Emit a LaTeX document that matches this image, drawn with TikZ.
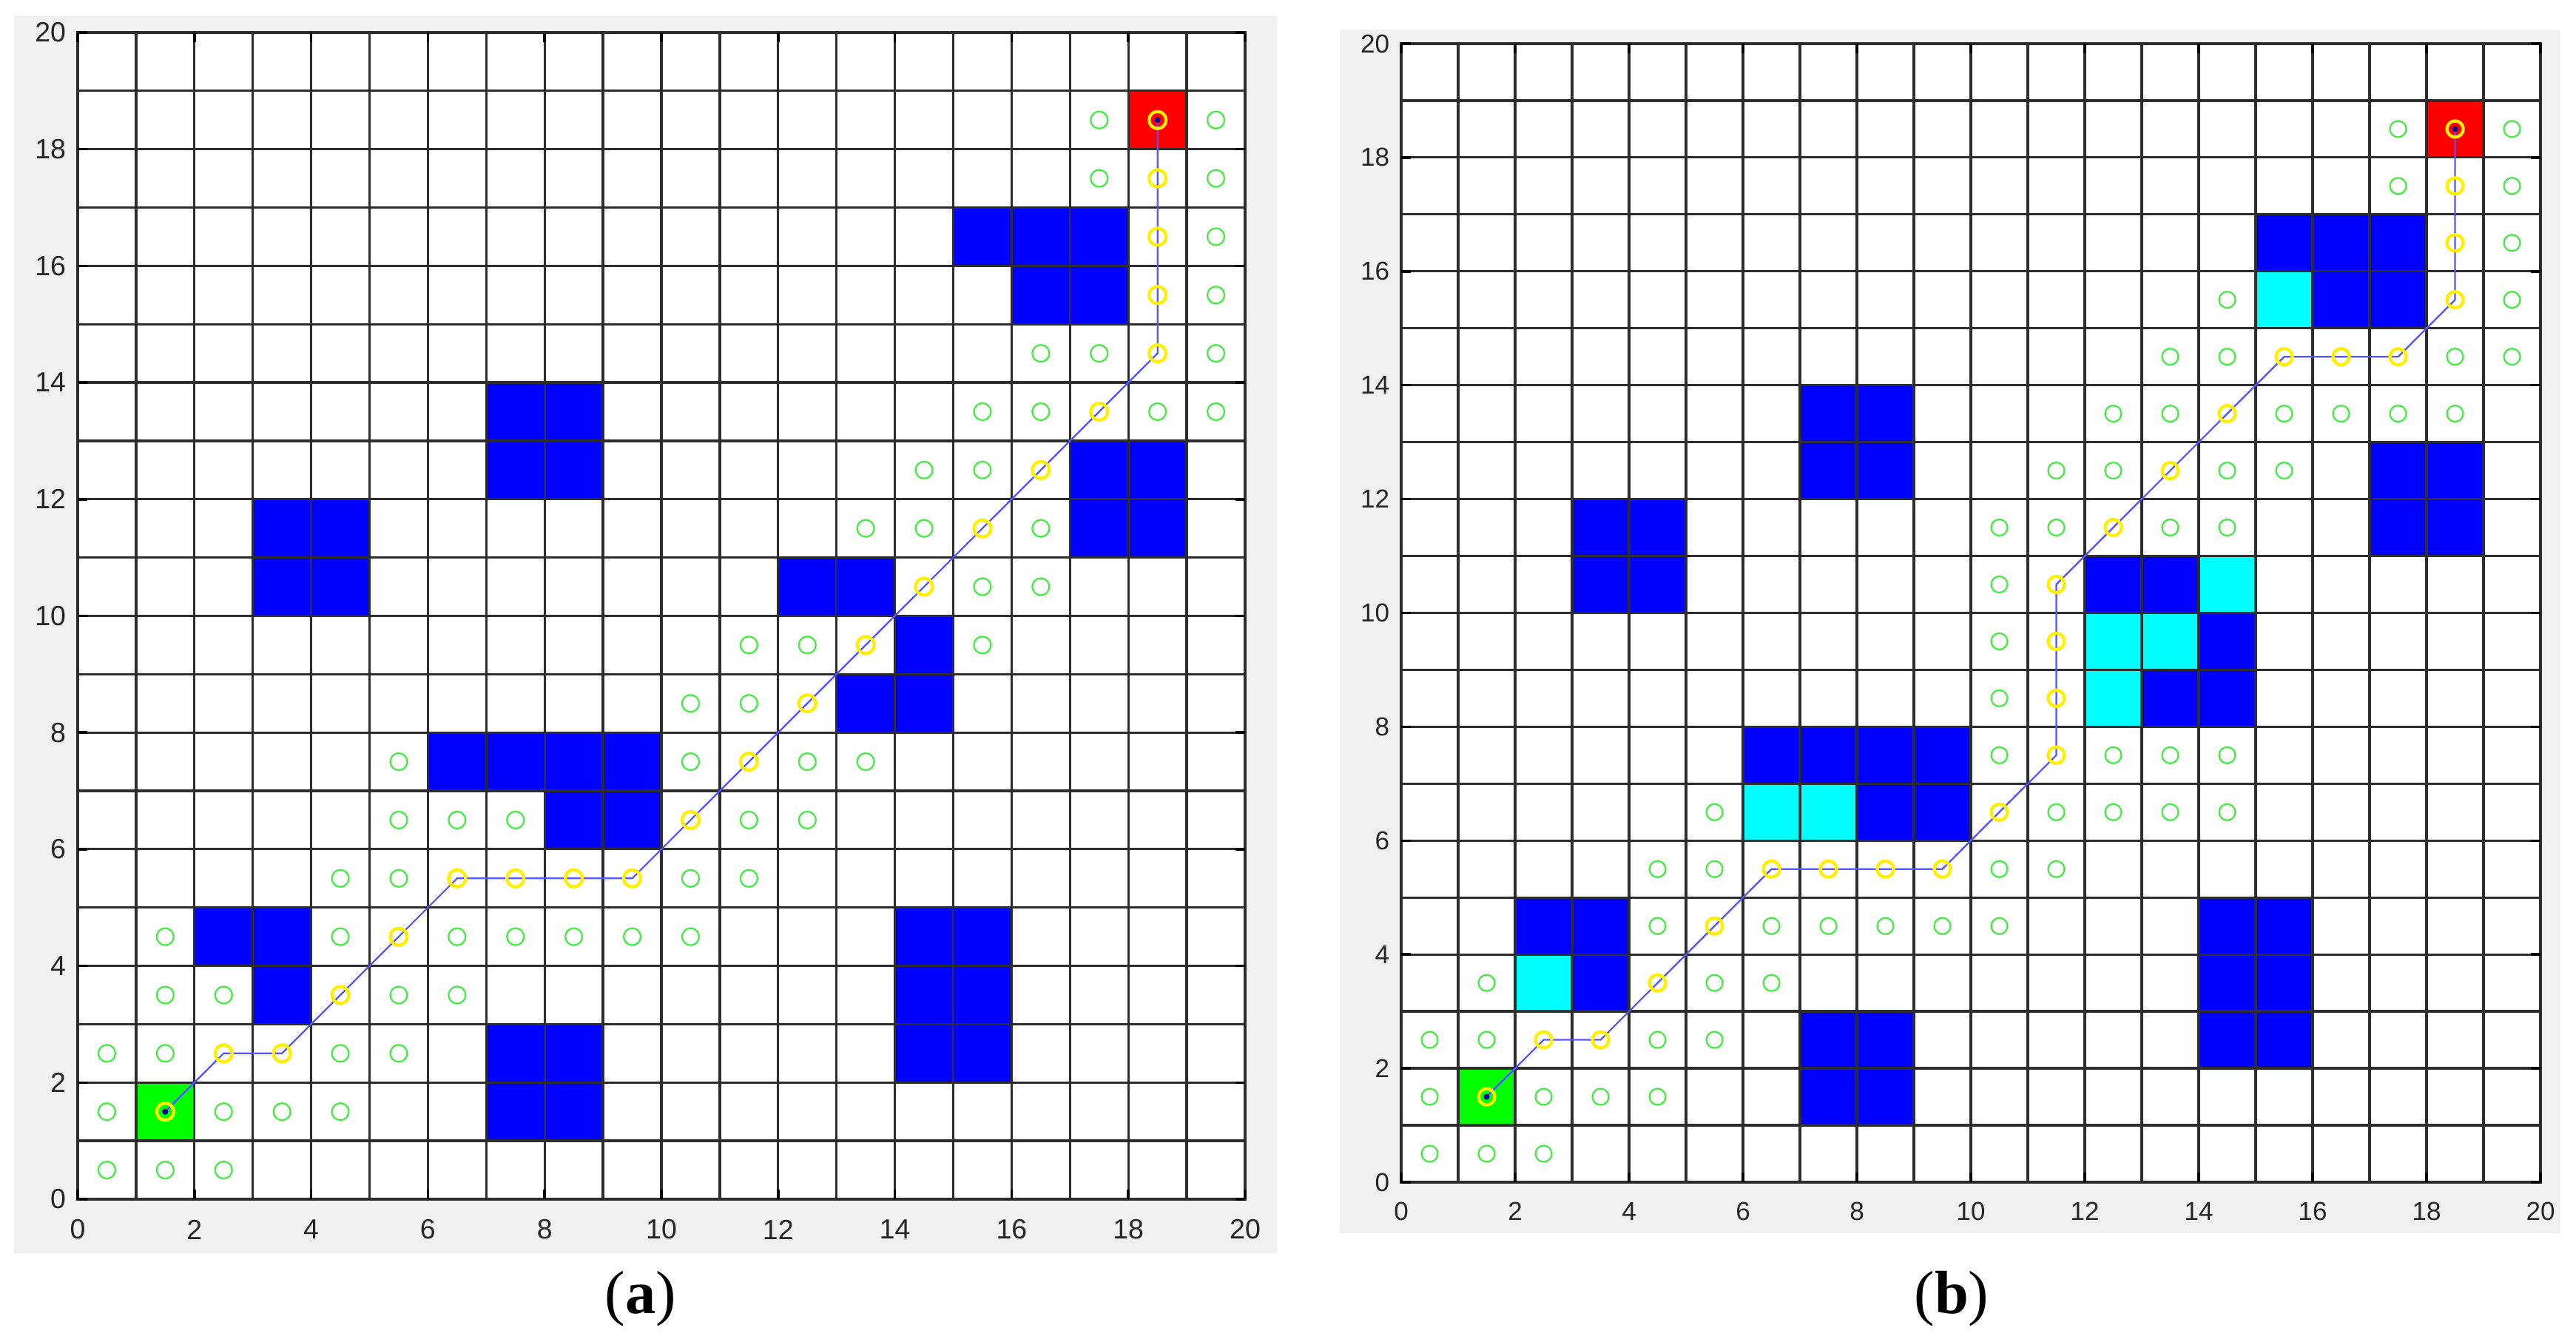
\documentclass[tikz,border=0pt]{standalone}
\usepackage{fontspec}
\setmainfont{Liberation Serif}
\newfontfamily\tickfont{Liberation Sans}
\definecolor{figgray}{RGB}{240,240,240}
\definecolor{obstblue}{RGB}{0,0,255}
\definecolor{obstcyan}{RGB}{0,255,255}
\definecolor{startgreen}{RGB}{0,255,0}
\definecolor{goalred}{RGB}{255,0,0}
\definecolor{opengreen}{RGB}{70,235,70}
\definecolor{pathyellow}{RGB}{255,240,0}
\definecolor{routeblue}{RGB}{85,85,255}
\definecolor{gridcol}{RGB}{45,45,45}
\definecolor{tickcol}{RGB}{38,38,38}
\tikzset{
  gridline/.style={draw=gridcol, line width=0.65pt},
  axisline/.style={draw=gridcol, line width=0.7pt},
  tickline/.style={draw=black, line width=0.7pt},
  obst/.style={fill=obstblue},
  obstc/.style={fill=obstcyan},
  opencirc/.style={draw=opengreen, line width=0.45pt},
  pathcirc/.style={draw=pathyellow, line width=0.85pt},
  route/.style={draw=routeblue, line width=0.45pt, line join=round},
  enddot/.style={fill=blue!60!black},
  panellabel/.style={font=\fontsize{16.5}{18}\selectfont, inner sep=0pt},
}
% axes, grid, ticks and tick labels of one panel (data units 0..20)
\newcommand\panelgrid[2]{% #1 tick font size, #2 label offset below
  \foreach \i in {0,...,20} {
    \draw[gridline] (\i,0) -- (\i,20);
    \draw[gridline] (0,\i) -- (20,\i);
  }
  \draw[axisline] (0,0) rectangle (20,20);
  \foreach \i in {0,2,...,20} {
    \draw[tickline] (\i,0) -- ++(0,2.6pt);
    \draw[tickline] (\i,20) -- ++(0,-2.6pt);
    \draw[tickline] (0,\i) -- ++(2.6pt,0);
    \draw[tickline] (20,\i) -- ++(-2.6pt,0);
    \node[font={\tickfont\fontsize{#1}{#1}\selectfont}, text=tickcol, inner sep=0pt, anchor=center]
      (xl\i) at ([yshift=-#2]\i,0) {\i};
    \node[font={\tickfont\fontsize{#1}{#1}\selectfont}, text=tickcol, inner sep=0pt, anchor=east]
      (yl\i) at ([xshift=-3pt]0,\i) {\i};
  }
}
\begin{document}
\begin{tikzpicture}
\useasboundingbox (0,0) rectangle (696.4pt,362.8pt);
% figure backgrounds
\fill[figgray] (3.8pt,24pt) rectangle (345.2pt,358.6pt);
\fill[figgray] (362.2pt,29.4pt) rectangle (692.2pt,354.8pt);

% ---------------- panel (a) ----------------
\begin{scope}[shift={(21pt,38.6pt)}, x=15.78pt, y=15.77pt]
  \fill[white] (0,0) rectangle (20,20);
  \foreach \x/\y in {15/16,16/16,17/16,16/15,17/15, 7/12,8/12,7/13,8/13,
      3/10,4/10,3/11,4/11, 17/11,18/11,17/12,18/12,
      12/10,13/10,14/9,14/8,13/8, 6/7,7/7,8/7,9/7,8/6,9/6,
      2/4,3/4,3/3, 7/1,8/1,7/2,8/2, 14/2,15/2,14/3,15/3,14/4,15/4}
    \fill[obst] (\x,\y) rectangle ++(1,1);
  \fill[startgreen] (1,1) rectangle (2,2);
  \fill[goalred] (18,18) rectangle (19,19);
  \panelgrid{7.5}{8.2pt}
  \draw[route] (1.5,1.5) -- (2.5,2.5) -- (3.5,2.5) -- (4.5,3.5) -- (5.5,4.5) -- (6.5,5.5)
     -- (9.5,5.5) -- (10.5,6.5) -- (18.5,14.5) -- (18.5,18.5);
  \foreach \x/\y in {0.5/0.5,1.5/0.5,2.5/0.5,
      0.5/1.5,2.5/1.5,3.5/1.5,4.5/1.5,
      0.5/2.5,1.5/2.5,4.5/2.5,5.5/2.5,
      1.5/3.5,2.5/3.5,5.5/3.5,6.5/3.5,
      1.5/4.5,4.5/4.5,6.5/4.5,7.5/4.5,8.5/4.5,9.5/4.5,10.5/4.5,
      4.5/5.5,5.5/5.5,10.5/5.5,11.5/5.5,
      5.5/6.5,6.5/6.5,7.5/6.5,11.5/6.5,12.5/6.5,
      5.5/7.5,10.5/7.5,12.5/7.5,13.5/7.5,
      10.5/8.5,11.5/8.5,
      11.5/9.5,12.5/9.5,15.5/9.5,
      15.5/10.5,16.5/10.5,
      13.5/11.5,14.5/11.5,16.5/11.5,
      14.5/12.5,15.5/12.5,
      15.5/13.5,16.5/13.5,18.5/13.5,19.5/13.5,
      16.5/14.5,17.5/14.5,19.5/14.5,
      19.5/15.5,19.5/16.5,
      17.5/17.5,19.5/17.5,
      17.5/18.5,19.5/18.5}
    \draw[opencirc] (\x,\y) circle[radius=2.3pt];
  \foreach \x/\y in {1.5/1.5,2.5/2.5,3.5/2.5,4.5/3.5,5.5/4.5,6.5/5.5,7.5/5.5,8.5/5.5,
      9.5/5.5,10.5/6.5,11.5/7.5,12.5/8.5,13.5/9.5,14.5/10.5,15.5/11.5,16.5/12.5,
      17.5/13.5,18.5/14.5,18.5/15.5,18.5/16.5,18.5/17.5,18.5/18.5}
    \draw[pathcirc] (\x,\y) circle[radius=2.3pt];
  \fill[enddot] (1.5,1.5) circle[radius=0.8pt];
  \fill[enddot] (18.5,18.5) circle[radius=0.8pt];
\end{scope}

% ---------------- panel (b) ----------------
\begin{scope}[shift={(378.8pt,43.2pt)}, x=15.4pt, y=15.39pt]
  \fill[white] (0,0) rectangle (20,20);
  \foreach \x/\y in {15/16,16/16,17/16,16/15,17/15, 7/12,8/12,7/13,8/13,
      3/10,4/10,3/11,4/11, 17/11,18/11,17/12,18/12,
      12/10,13/10,14/9,13/8,14/8, 6/7,7/7,8/7,9/7,8/6,9/6,
      2/4,3/4,3/3, 7/1,8/1,7/2,8/2, 14/2,15/2,14/3,15/3,14/4,15/4}
    \fill[obst] (\x,\y) rectangle ++(1,1);
  \foreach \x/\y in {15/15, 14/10,12/9,13/9,12/8, 6/6,7/6, 2/3}
    \fill[obstc] (\x,\y) rectangle ++(1,1);
  \fill[startgreen] (1,1) rectangle (2,2);
  \fill[goalred] (18,18) rectangle (19,19);
  \panelgrid{7}{7.8pt}
  \draw[route] (1.5,1.5) -- (2.5,2.5) -- (3.5,2.5) -- (4.5,3.5) -- (5.5,4.5) -- (6.5,5.5)
     -- (9.5,5.5) -- (10.5,6.5) -- (11.5,7.5) -- (11.5,10.5) -- (15.5,14.5) -- (17.5,14.5)
     -- (18.5,15.5) -- (18.5,18.5);
  \foreach \x/\y in {0.5/0.5,1.5/0.5,2.5/0.5,
      0.5/1.5,2.5/1.5,3.5/1.5,4.5/1.5,
      0.5/2.5,1.5/2.5,4.5/2.5,5.5/2.5,
      1.5/3.5,5.5/3.5,6.5/3.5,
      4.5/4.5,6.5/4.5,7.5/4.5,8.5/4.5,9.5/4.5,10.5/4.5,
      4.5/5.5,5.5/5.5,10.5/5.5,11.5/5.5,
      5.5/6.5,11.5/6.5,12.5/6.5,13.5/6.5,14.5/6.5,
      10.5/7.5,12.5/7.5,13.5/7.5,14.5/7.5,
      10.5/8.5,10.5/9.5,10.5/10.5,
      10.5/11.5,11.5/11.5,13.5/11.5,14.5/11.5,
      11.5/12.5,12.5/12.5,14.5/12.5,15.5/12.5,
      12.5/13.5,13.5/13.5,15.5/13.5,16.5/13.5,17.5/13.5,18.5/13.5,
      13.5/14.5,14.5/14.5,18.5/14.5,19.5/14.5,
      14.5/15.5,19.5/15.5,
      19.5/16.5,
      17.5/17.5,19.5/17.5,
      17.5/18.5,19.5/18.5}
    \draw[opencirc] (\x,\y) circle[radius=2.2pt];
  \foreach \x/\y in {1.5/1.5,2.5/2.5,3.5/2.5,4.5/3.5,5.5/4.5,6.5/5.5,7.5/5.5,8.5/5.5,
      9.5/5.5,10.5/6.5,11.5/7.5,11.5/8.5,11.5/9.5,11.5/10.5,12.5/11.5,13.5/12.5,
      14.5/13.5,15.5/14.5,16.5/14.5,17.5/14.5,18.5/15.5,18.5/16.5,18.5/17.5,18.5/18.5}
    \draw[pathcirc] (\x,\y) circle[radius=2.2pt];
  \fill[enddot] (1.5,1.5) circle[radius=0.8pt];
  \fill[enddot] (18.5,18.5) circle[radius=0.8pt];
\end{scope}

% panel labels
\node[panellabel] (laba) at (173.2pt,11.6pt) {(\textbf{a})};
\node[panellabel] (labb) at (527.6pt,11.6pt) {(\textbf{b})};
\end{tikzpicture}
\end{document}
